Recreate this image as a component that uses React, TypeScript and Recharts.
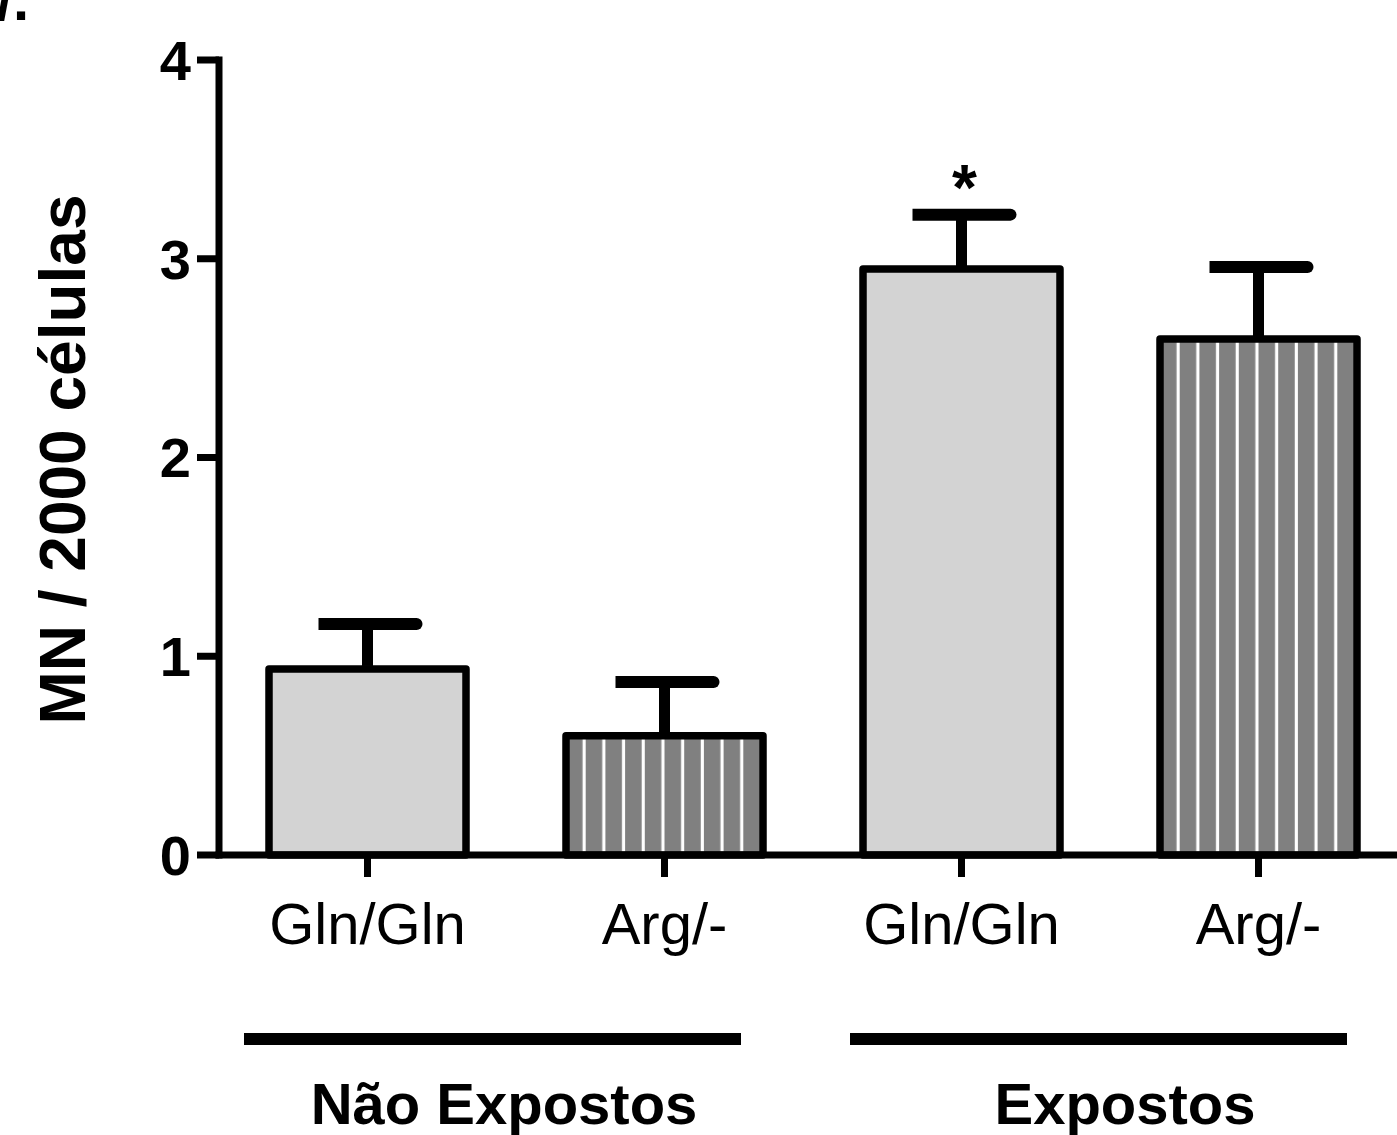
// MN / 2000 células — bar chart with SEM error bars, grouped by exposure

import { BarChart, Bar, XAxis, YAxis } from 'recharts'

const categories = ['Gln/Gln', 'Arg/-', 'Gln/Gln', 'Arg/-']
const groups = ['Não Expostos', 'Não Expostos', 'Expostos', 'Expostos']
const means = [0.936, 0.6, 2.948, 2.596]
const sems = [0.226, 0.271, 0.274, 0.362]
const significance = ['', '', '*', '']
const yTicks = [0, 1, 2, 3, 4]

const data = categories.map((c, i) => ({
  id: `${groups[i]}|${c}`,
  label: c,
  group: groups[i],
  mean: means[i],
  sem: sems[i],
  sig: significance[i],
}))

const FONT = '"Liberation Sans", Arial, sans-serif'

// fill per genotype
const FILLS: Record<string, string> = {
  'Gln/Gln': '#d3d3d3',
  'Arg/-': 'url(#stripes)',
}

// small nudges so the group bars/labels sit like the original
const GROUP_LINE_DX = [-8, 4]
const GROUP_TEXT_DX = [-12, 15]

function BarShape(props: any) {
  const { x, y, width, height, payload } = props
  const pxPerUnit = height / payload.mean
  const errTop = y - payload.sem * pxPerUnit
  const cx = x + width / 2
  return (
    <g>
      <rect
        x={x}
        y={y}
        width={width}
        height={height}
        fill={FILLS[payload.label]}
        stroke="#000"
        strokeWidth={7.5}
        strokeLinejoin="round"
      />
      <line x1={cx} x2={cx} y1={y - 3} y2={errTop} stroke="#000" strokeWidth={11} />
      <path
        d={`M${cx - 49},${errTop - 6} H${cx + 49} A6 6 0 0 1 ${cx + 49},${errTop + 6} H${cx - 49} Z`}
        fill="#000"
      />
      {payload.sig ? (
        <text
          x={cx + 3}
          y={errTop - 5}
          textAnchor="middle"
          fontFamily={FONT}
          fontWeight="bold"
          fontSize={64}
          fill="#000"
        >
          {payload.sig}
        </text>
      ) : null}
    </g>
  )
}

function GroupTick({ x, y, payload, index }: any) {
  const i = index ?? 0
  return (
    <g>
      <rect x={x - 264 + (GROUP_LINE_DX[i] || 0)} y={y + 68} width={497} height={12} fill="#000" />
      <text
        x={x + (GROUP_TEXT_DX[i] || 0)}
        y={y + 159}
        textAnchor="middle"
        fontFamily={FONT}
        fontWeight="bold"
        fontSize={58}
        fill="#000"
      >
        {payload.value}
      </text>
    </g>
  )
}

function YLabel({ viewBox }: any) {
  const cx = viewBox.x + 85
  const cy = viewBox.y + viewBox.height / 2 + 2
  return (
    <text
      x={cx}
      y={cy}
      transform={`rotate(-90 ${cx} ${cy})`}
      textAnchor="middle"
      fontFamily={FONT}
      fontWeight="bold"
      fontSize={64}
      fill="#000"
    >
      MN / 2000 células
    </text>
  )
}

export default function App() {
  return (
    <div style={{ position: 'absolute', left: 0, top: 0, width: 1397, height: 1135, background: '#fff' }}>
      <svg width={60} height={30} style={{ position: 'absolute', left: 0, top: 0 }}>
        <text x={29} y={20} textAnchor="end" fontFamily={FONT} fontWeight="bold" fontSize={58} fill="#000">
          /.
        </text>
      </svg>
      <BarChart
        width={1397}
        height={1135}
        data={data}
        margin={{ top: 60, right: -10, bottom: 0, left: 0 }}
        barSize={197}
      >
        <defs>
          <pattern
            id="stripes"
            patternUnits="objectBoundingBox"
            patternContentUnits="objectBoundingBox"
            width={0.1}
            height={1}
          >
            <rect x={0} y={0} width={0.1} height={1} fill="#808080" />
            <rect x={0.084} y={0} width={0.016} height={1} fill="#fff" />
          </pattern>
        </defs>
        <XAxis
          dataKey="id"
          height={110}
          interval={0}
          tickSize={22}
          tickMargin={26}
          tickFormatter={(v: string) => v.split('|')[1]}
          axisLine={{ stroke: '#000', strokeWidth: 7, strokeLinecap: 'square' }}
          tickLine={{ stroke: '#000', strokeWidth: 7 }}
          tick={{ fill: '#000', fontSize: 58, fontFamily: FONT }}
        />
        <XAxis
          xAxisId="group"
          dataKey="group"
          allowDuplicatedCategory={false}
          height={170}
          interval={0}
          tickSize={0}
          tickMargin={0}
          axisLine={false}
          tickLine={false}
          tick={<GroupTick />}
        />
        <YAxis
          width={219}
          domain={[0, 4]}
          ticks={yTicks}
          interval={0}
          tickSize={22}
          tickMargin={6}
          axisLine={{ stroke: '#000', strokeWidth: 7, strokeLinecap: 'square' }}
          tickLine={{ stroke: '#000', strokeWidth: 7 }}
          tick={{ fill: '#000', fontSize: 56, fontWeight: 'bold', fontFamily: FONT }}
          label={<YLabel />}
        />
        <Bar dataKey="mean" isAnimationActive={false} shape={(p: any) => <BarShape {...p} />} />
      </BarChart>
    </div>
  )
}
